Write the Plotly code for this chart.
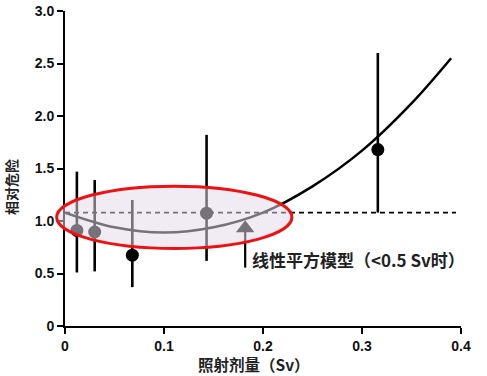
import plotly.graph_objects as go

# Data points (dose in Sv, relative risk) with asymmetric error bars
dose = [0.012, 0.030, 0.068, 0.143, 0.316]
risk = [0.91, 0.895, 0.675, 1.075, 1.68]
err_upper = [1.47, 1.39, 1.20, 1.82, 2.60]
err_lower = [0.51, 0.52, 0.37, 0.62, 1.08]

# Linear-quadratic fit curve
fit_dose = [0.0, 0.05, 0.10, 0.15, 0.20, 0.25, 0.30, 0.35, 0.39]
fit_risk = [1.08, 0.94, 0.89, 0.94, 1.08, 1.33, 1.67, 2.12, 2.55]

# Reference dashed line
ref_dose = [0.0, 0.395]
ref_risk = [1.08, 1.08]

# Arrow marker
arrow_x = [0.182, 0.182]
arrow_y = [0.556, 0.92]
arrow_head_y = 0.93

x_ticks = [0, 0.1, 0.2, 0.3, 0.4]
x_ticklabels = ["0", "0.1", "0.2", "0.3", "0.4"]
y_ticks = [0, 0.5, 1.0, 1.5, 2.0, 2.5, 3.0]
y_ticklabels = ["0", "0.5", "1.0", "1.5", "2.0", "2.5", "3.0"]

W, H = 487, 376
ML, MR, MT, MB = 65, 26, 11, 50

fig = go.Figure()

fig.add_trace(go.Scatter(
    x=ref_dose, y=ref_risk, mode="lines",
    line=dict(color="black", width=1.6, dash="5px,4px"),
    hoverinfo="skip", showlegend=False))

fig.add_trace(go.Scatter(
    x=fit_dose, y=fit_risk, mode="lines",
    line=dict(color="black", width=2.5, shape="spline", smoothing=1.0),
    hoverinfo="skip", showlegend=False))

fig.add_trace(go.Scatter(
    x=dose, y=risk, mode="markers",
    marker=dict(color="black", size=13),
    error_y=dict(type="data", symmetric=False,
                 array=[u - r for u, r in zip(err_upper, risk)],
                 arrayminus=[r - l for r, l in zip(risk, err_lower)],
                 color="black", thickness=2.6, width=0),
    showlegend=False))

fig.add_trace(go.Scatter(
    x=arrow_x, y=arrow_y, mode="lines",
    line=dict(color="black", width=2.2),
    hoverinfo="skip", showlegend=False))
fig.add_trace(go.Scatter(
    x=[arrow_x[0]], y=[arrow_head_y], mode="markers",
    marker=dict(color="black", size=16, symbol="triangle-up"),
    hoverinfo="skip", showlegend=False, cliponaxis=False))

# Highlight ellipse (paper coordinates so it can extend past the axis)
fig.add_shape(type="circle", xref="paper", yref="paper",
              x0=-0.021, x1=0.573, y0=0.246, y1=0.444,
              line=dict(color="#ee1111", width=3),
              fillcolor="rgba(228,218,234,0.52)", layer="above")

cjk = "Noto Sans CJK SC"
fig.add_annotation(x=0.187, y=0.635, xref="x", yref="y",
                   text="线性平方模型（<0.5 Sv时）", showarrow=False,
                   xanchor="left", yanchor="middle",
                   font=dict(family=cjk, size=17, color="#222222", weight="bold"))

fig.add_annotation(x=0.478, y=-0.1216, xref="paper", yref="paper",
                   text="照射剂量（Sv）", showarrow=False,
                   xanchor="center", yanchor="middle",
                   font=dict(family=cjk, size=15.5, color="#222222", weight="bold"))

fig.add_annotation(x=-0.135, y=0.44, xref="paper", yref="paper",
                   text="相对危险", showarrow=False, textangle=-90,
                   xanchor="center", yanchor="middle",
                   font=dict(family=cjk, size=14, color="#222222", weight="bold"))

tickfont = dict(family="Liberation Sans", size=14, color="#111111", weight="bold")

fig.update_xaxes(range=[0, 0.4], tickvals=x_ticks, ticktext=x_ticklabels,
                 showline=True, linecolor="black", linewidth=2,
                 ticks="outside", ticklen=6, tickwidth=1.5, tickcolor="black",
                 showgrid=False, zeroline=False, tickfont=tickfont,
                 automargin=False)
fig.update_yaxes(range=[0, 3], tickvals=y_ticks, ticktext=y_ticklabels,
                 showline=True, linecolor="black", linewidth=2,
                 ticks="outside", ticklen=6, tickwidth=1.5, tickcolor="black",
                 showgrid=False, zeroline=False, tickfont=tickfont,
                 automargin=False)

fig.update_layout(width=W, height=H,
                  margin=dict(l=ML, r=MR, t=MT, b=MB, autoexpand=False),
                  plot_bgcolor="white", paper_bgcolor="white")

fig.write_html("out.html",
               config={"displayModeBar": False},
               post_script="document.body.style.margin='0';")
